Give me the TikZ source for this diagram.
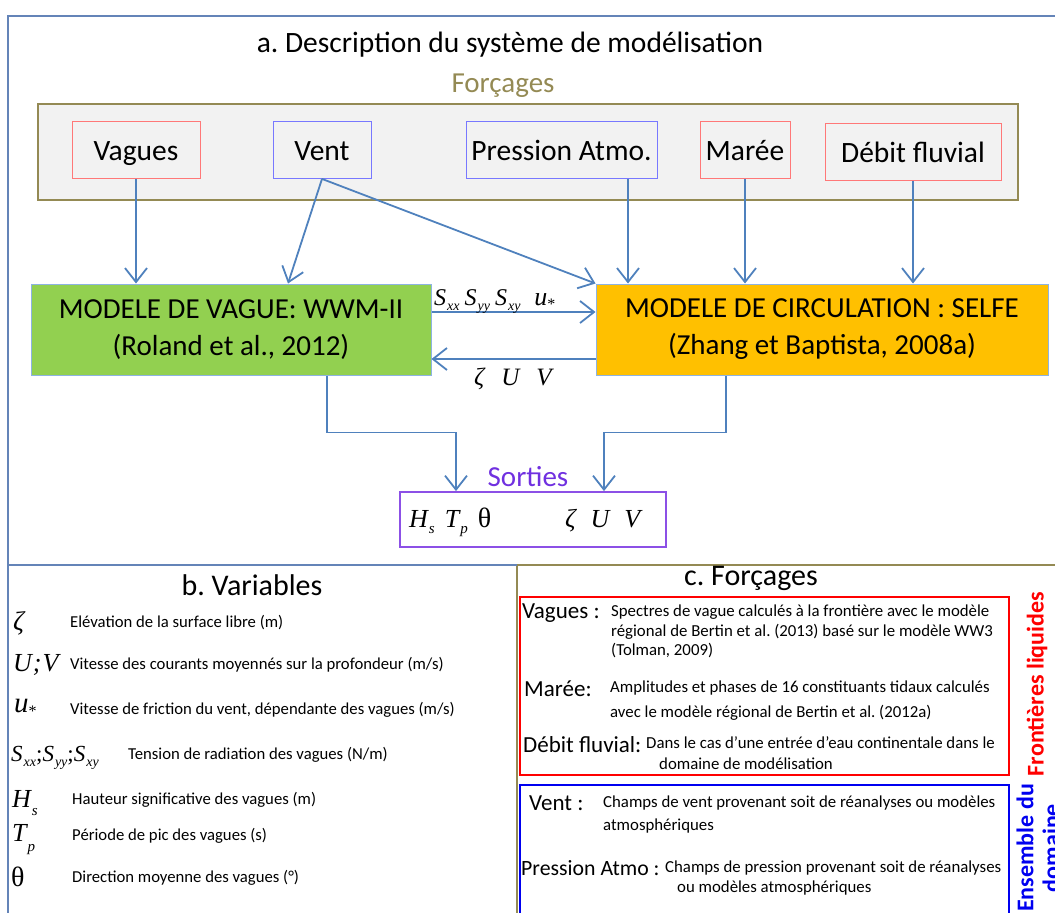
\documentclass[tikz,border=0pt]{standalone}
\usepackage{fontspec}
\setmainfont{Carlito}
\newfontfamily\tms{Liberation Serif}
\usetikzlibrary{arrows.meta}
\frenchspacing
\definecolor{conn}{RGB}{79,129,189}
\definecolor{framec}{RGB}{100,132,184}
\definecolor{olivec}{RGB}{148,138,84}
\definecolor{boxgray}{RGB}{242,242,242}
\definecolor{rline}{RGB}{255,120,120}
\definecolor{bline}{RGB}{120,120,255}
\definecolor{vgreen}{RGB}{146,208,80}
\definecolor{vorange}{RGB}{255,192,0}
\definecolor{mline}{RGB}{141,179,226}
\definecolor{purp}{RGB}{112,48,224}
\definecolor{purpl}{RGB}{140,80,230}
\definecolor{redc}{RGB}{255,0,0}
\definecolor{bluec}{RGB}{0,0,240}
\newcommand\fsz[1]{\fontsize{#1}{#1}\selectfont}
% #1 size, #2 letter, #3 sub size, #4 drop (pt), #5 subscript
\newcommand\tv[5]{{\tms\itshape\fsz{#1}#2\kern1pt\raisebox{-#4pt}{\fsz{#3}#5}}}
\newcommand\ti[2]{{\tms\itshape\fsz{#1}#2}}
\newcommand\ustar[2]{{\tms\itshape\fsz{#1}u}\raisebox{-#2pt}{\tms\fsz{16}*}}
\tikzset{
  fin/.style={draw, fill=boxgray, line width=0.8pt, inner sep=0pt, font=\fsz{29.5}, text height=21pt, text depth=1pt},
  model/.style={draw=mline, line width=1pt, inner sep=0pt, align=center, font=\fontsize{29}{37}\selectfont},
  conarrow/.style={draw=conn, line width=1.8pt, -{Straight Barb[length=14pt,width=22pt]}},
  lbl/.style={inner sep=0pt, anchor=west},
  dsc/.style={inner sep=0pt, anchor=west, font=\fsz{16.7}},
  cdsc/.style={inner sep=0pt, anchor=west, font=\fsz{16.8}},
  chd/.style={inner sep=0pt, anchor=west, font=\fsz{23}},
}
\begin{document}
\begin{tikzpicture}[x=1pt,y=-1pt]
\useasboundingbox (0,0) rectangle (1055,913);
\begin{scope}
\clip (0,0) rectangle (1055,913);
% panels
\draw[framec, line width=1.2pt] (8,565) -- (8,16) -- (1070,16);
\draw[framec, line width=1.2pt] (1070,565) -- (8,565) -- (8,930);
\draw[olivec, line width=1.5pt] (517,930) -- (517,565) -- (1070,565);
\draw[framec, line width=1.2pt] (8,565) -- (517,565);

% titles
\node[inner sep=0pt] (ttl) at (510,45) {\fsz{29.5}a. Description du système de modélisation};
\node[inner sep=0pt, text=olivec] (forc) at (503,86) {\fsz{29}Forçages};

% forcing box
\node[draw=olivec, fill=boxgray, line width=1.2pt, minimum width=980pt, minimum height=96pt, inner sep=0pt] (fbox) at (528,152) {};
\node[fin, draw=rline, minimum width=128pt, minimum height=57pt] (vag) at (136,150) {Vagues};
\node[fin, draw=bline, minimum width=98pt, minimum height=57pt] (vent) at (322,150) {Vent};
\node[fin, draw=bline, minimum width=191pt, minimum height=57pt] (pres) at (561.5,150) {Pression Atmo.};
\node[fin, draw=rline, minimum width=90pt, minimum height=57pt] (mar) at (745,150) {Marée};
\node[fin, draw=rline, minimum width=176pt, minimum height=57pt] (deb) at (913,152) {Débit fluvial};

% models
\node[model, fill=vgreen, minimum width=400pt, minimum height=91pt] (wwm) at (231,329.5) {MODELE DE VAGUE: WWM-II\\(Roland et al., 2012)};
\node[model, fill=vorange, minimum width=452pt, minimum height=91pt] (selfe) at (822,329.5) {MODELE DE CIRCULATION : SELFE\\(Zhang et Baptista, 2008a)};

% forcing arrows
\draw[conarrow] (vag.south) -- (vag.south |- wwm.north);
\draw[conarrow] (vent.south) -- ([xshift=57pt]wwm.north);
\draw[conarrow] (vent.south) -- (selfe.north west);
\draw[conarrow] ([xshift=66.5pt]pres.south) -- ([xshift=66.5pt]pres.south |- selfe.north);
\draw[conarrow] (mar.south) -- (mar.south |- selfe.north);
\draw[conarrow] (deb.south) -- (deb.south |- selfe.north);

% coupling arrows
\draw[conarrow] ([yshift=17.5pt]wwm.east) -- ([yshift=17.5pt]wwm.east -| selfe.west);
\draw[conarrow] ([yshift=-29.5pt]selfe.west) -- ([yshift=-29.5pt]selfe.west -| wwm.east);
\node[inner sep=0pt, anchor=base west] (lup) at (434,305) {\tv{24}{S}{14}{5}{xx}\hspace{5pt}\tv{24}{S}{14}{5}{yy}\hspace{5pt}\tv{24}{S}{14}{5}{xy}\hspace{14pt}\ustar{26}{4}};
\node[inner sep=0pt, anchor=base west] (ldn) at (474,385) {\ti{25}{ζ}\hspace{17pt}\ti{25}{U}\hspace{17pt}\ti{25}{V}};

% outputs
\node[draw=purpl, line width=1.8pt, minimum width=266pt, minimum height=55pt, inner sep=0pt] (sor) at (533,519.5) {};
\node[inner sep=0pt, text=purp] (sortl) at (528,477) {\fsz{29}Sorties};
\draw[conarrow] ([xshift=96pt]wwm.south) -- ++(0,57) -| ([xshift=-77pt]sor.north);
\draw[conarrow] ([xshift=-96pt]selfe.south) -- ++(0,57) -| ([xshift=71pt]sor.north);
\node[inner sep=0pt, anchor=base west] (sl) at (409,527) {\tv{26}{H}{15}{6}{s}\hspace{10pt}\tv{26}{T}{15}{6}{p}\hspace{10pt}{\tms\fsz{28}θ}};
\node[inner sep=0pt, anchor=base west] (sr) at (565,527) {\ti{26}{ζ}\hspace{15pt}\ti{26}{U}\hspace{15pt}\ti{26}{V}};

% panel b
\node[inner sep=0pt] (btl) at (252,585) {\fsz{30}b. Variables};
\node[lbl] (s1) at (13,623) {\ti{27}{ζ}};
\node[dsc] (d1) at (70,623) {Elévation de la surface libre (m)};
\node[lbl] (s2) at (13,665) {\ti{26}{U\kern1pt;\kern1pt V}};
\node[lbl] (s3) at (14,708) {\ustar{29}{4}};
\node[dsc] (d2) at (70,665) {Vitesse des courants moyennés sur la profondeur (m/s)};
\node[dsc] (d3) at (70,710) {Vitesse de friction du vent, dépendante des vagues (m/s)};
\node[lbl] (s4) at (11,758) {\tv{23}{S}{14}{5}{xx}{\tms\fsz{23};}\tv{23}{S}{14}{5}{yy}{\tms\fsz{23};}\tv{23}{S}{14}{5}{xy}};
\node[dsc] (d4) at (128,755) {Tension de radiation des vagues (N/m)};
\node[lbl] (s5) at (12,803) {\tv{26}{H}{15}{8}{s}};
\node[dsc] (d5) at (72,800) {Hauteur significative des vagues (m)};
\node[lbl] (s6) at (12,840) {\tv{26}{T}{15}{10}{p}};
\node[dsc] (d6) at (72,836) {Période de pic des vagues (s)};
\node[lbl] (s7) at (11,877) {{\tms\fsz{28}θ}};
\node[dsc] (d7) at (72,878) {Direction moyenne des vagues (°)};

% panel c
\node[inner sep=0pt] (ctl) at (751,578) {\fsz{30}c. Forçages};
\draw[redc, line width=1.3pt] (520,597) rectangle (1009,775);
\node[chd] (h1) at (522,613) {Vagues :};
\node[cdsc] (c1) at (611,612) {Spectres de vague calculés à la frontière avec le modèle};
\node[cdsc] (c2) at (611,632) {régional de Bertin et al. (2013) basé sur le modèle WW3};
\node[cdsc] (c3) at (611,651) {(Tolman, 2009)};
\node[chd] (h2) at (524,689) {Marée:};
\node[cdsc] (c4) at (610,688) {Amplitudes et phases de 16 constituants tidaux calculés};
\node[cdsc] (c5) at (610,713) {avec le modèle régional de Bertin et al. (2012a)};
\node[chd] (h3) at (523,745) {Débit fluvial:};
\node[cdsc] (c6) at (646,743) {Dans le cas d’une entrée d’eau continentale dans le};
\node[cdsc] (c7) at (659,764) {domaine de modélisation};
\node[inner sep=0pt, rotate=90, text=redc, font=\bfseries\fsz{24}] (fl) at (1037,684) {Frontières liquides};

\draw[bluec, line width=1.3pt] (520,785) rectangle (1009,930);
\node[chd] (h4) at (529,803) {Vent :};
\node[cdsc] (c8) at (603,803) {Champs de vent provenant soit de réanalyses ou modèles};
\node[cdsc] (c9) at (603,826) {atmosphériques};
\node[chd, font=\fsz{21.8}] (h5) at (521,868) {Pression Atmo :};
\node[cdsc] (c10) at (665,868) {Champs de pression provenant soit de réanalyses};
\node[cdsc] (c11) at (677,888) {ou modèles atmosphériques};
\node[inner sep=0pt, rotate=90, text=bluec, align=center, font=\bfseries\fontsize{24}{26}\selectfont] (ens) at (1038,848) {Ensemble du\\domaine};
\end{scope}
\end{tikzpicture}
\end{document}
